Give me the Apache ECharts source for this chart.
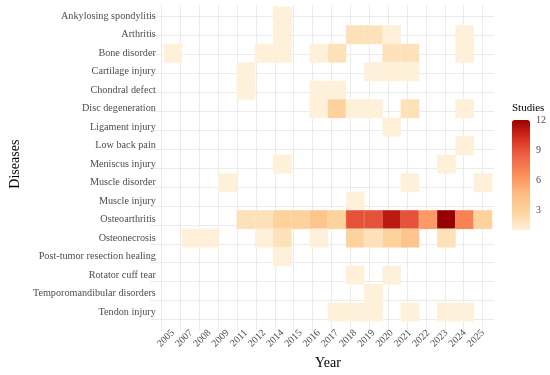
<!DOCTYPE html>
<html><head><meta charset="utf-8">
<script src="https://cdn.jsdelivr.net/npm/echarts@6/dist/echarts.min.js"></script>
<style>html,body{margin:0;padding:0;background:#fff}#c{width:550px;height:375px}</style>
</head><body><div id="c"></div>
<script>
const years = ['2005','2007','2008','2009','2011','2012','2014','2015','2016','2017','2018','2019','2020','2021','2022','2023','2024','2025'];
const diseases = ['Ankylosing spondylitis','Arthritis','Bone disorder','Cartilage injury','Chondral defect','Disc degeneration','Ligament injury','Low back pain','Meniscus injury','Muscle disorder','Muscle injury','Osteoarthritis','Osteonecrosis','Post-tumor resection healing','Rotator cuff tear','Temporomandibular disorders','Tendon injury'];
const legendTicks = [3, 6, 9, 12];

// studies per year, one list per disease: [year, count]
const ankylosingSpondylitis = [['2014',1]];
const arthritis = [['2014',1],['2018',2],['2019',2],['2020',1],['2024',1]];
const boneDisorder = [['2005',1],['2012',1],['2014',1],['2016',1],['2017',2],['2020',2],['2021',2],['2024',1]];
const cartilageInjury = [['2011',1],['2019',1],['2020',1],['2021',1]];
const chondralDefect = [['2011',1],['2016',1],['2017',1]];
const discDegeneration = [['2016',1],['2017',3],['2018',1],['2019',1],['2021',2],['2024',1]];
const ligamentInjury = [['2020',1]];
const lowBackPain = [['2024',1]];
const meniscusInjury = [['2014',1],['2023',1]];
const muscleDisorder = [['2009',1],['2021',1],['2025',1]];
const muscleInjury = [['2018',1]];
const osteoarthritis = [['2011',2],['2012',2],['2014',3],['2015',3],['2016',4],['2017',3],['2018',9],['2019',9],['2020',11],['2021',9],['2022',6],['2023',12],['2024',7],['2025',3]];
const osteonecrosis = [['2007',1],['2008',1],['2012',1],['2014',2],['2016',1],['2018',3],['2019',2],['2020',3],['2021',4],['2023',2]];
const postTumor = [['2014',1]];
const rotatorCuffTear = [['2018',1],['2020',1]];
const temporomandibular = [['2019',1]];
const tendonInjury = [['2017',1],['2018',1],['2019',1],['2021',1],['2023',1],['2024',1]];

const perDisease = [ankylosingSpondylitis, arthritis, boneDisorder, cartilageInjury, chondralDefect, discDegeneration, ligamentInjury, lowBackPain, meniscusInjury, muscleDisorder, muscleInjury, osteoarthritis, osteonecrosis, postTumor, rotatorCuffTear, temporomandibular, tendonInjury];
const heatData = [];
perDisease.forEach((list, i) => list.forEach(([y, v]) => heatData.push([y, diseases[i], v])));

// panel layout (ggplot-like: panel extends 0.1 category beyond the tiles)
const cellLeft = 152, cellTop = 7, cellW = 340, cellH = 322;
const colW = cellW / years.length, rowH = cellH / diseases.length;
const EXP = 0.1;
const GRID_COLOR = '#EBEBEB';

const FONT = 'Liberation Serif';
const hiddenValue = (gi) => ({type: 'value', gridIndex: gi, show: false, min: 0, max: 1, splitLine: {show: false}});
const chart = echarts.init(document.getElementById('c'), null, {renderer: 'canvas'});
chart.setOption({
  backgroundColor: '#fff',
  animation: false,
  title: {
    text: 'Studies', left: 512, top: 103, padding: 0,
    textStyle: {fontFamily: FONT, fontSize: 11, fontWeight: 'normal', color: '#000'}
  },
  grid: [
    {left: cellLeft, top: cellTop, width: cellW, height: cellH},
    {left: 512, top: 120, width: 18, height: 110},
    // vertical grid lines: from first to last column centre, full panel height
    {left: cellLeft + colW / 2, width: cellW - colW, top: cellTop - EXP * rowH, height: cellH + 2 * EXP * rowH},
    // horizontal grid lines: from first to last row centre, full panel width
    {left: cellLeft - EXP * colW, width: cellW + 2 * EXP * colW, top: cellTop + rowH / 2, height: cellH - rowH}
  ],
  xAxis: [
    {
      type: 'category', data: years, gridIndex: 0,
      axisLine: {show: false}, axisTick: {show: false},
      splitLine: {show: false},
      axisLabel: {rotate: 45, fontFamily: FONT, fontSize: 10, color: '#4D4D4D', margin: 10, interval: 0},
      name: 'Year', nameLocation: 'middle', nameGap: 33,
      nameTextStyle: {fontFamily: FONT, fontSize: 14, color: '#000'}
    },
    hiddenValue(1),
    {
      type: 'value', gridIndex: 2, min: 0, max: years.length - 1, interval: 1,
      axisLine: {show: false}, axisTick: {show: false}, axisLabel: {show: false},
      splitLine: {show: true, lineStyle: {color: GRID_COLOR, width: 1}}
    },
    hiddenValue(3)
  ],
  yAxis: [
    {
      type: 'category', data: diseases, inverse: true, gridIndex: 0,
      axisLine: {show: false}, axisTick: {show: false},
      splitLine: {show: false},
      axisLabel: {fontFamily: FONT, fontSize: 10.2, color: '#4D4D4D', margin: 8, interval: 0},
      name: 'Diseases', nameLocation: 'middle', nameGap: 137, nameRotate: 90,
      nameTextStyle: {fontFamily: FONT, fontSize: 14, color: '#000'}
    },
    {
      type: 'value', gridIndex: 1, min: 1, max: 12, position: 'right',
      axisLine: {show: false},
      splitLine: {show: false},
      axisTick: {show: true, inside: true, length: 3, customValues: legendTicks, lineStyle: {color: '#fff', width: 1}},
      axisLabel: {show: true, customValues: legendTicks, fontFamily: FONT, fontSize: 10, color: '#4D4D4D', margin: 6},
      z: 10
    },
    hiddenValue(2),
    {
      type: 'value', gridIndex: 3, min: 0, max: diseases.length - 1, interval: 1,
      axisLine: {show: false}, axisTick: {show: false}, axisLabel: {show: false},
      splitLine: {show: true, lineStyle: {color: GRID_COLOR, width: 1}}
    }
  ],
  visualMap: {
    type: 'continuous', min: 1, max: 12, dimension: 2, seriesIndex: 0,
    calculable: false, left: 512, top: 120, itemWidth: 18, itemHeight: 110, padding: 0,
    text: null, showLabel: false,
    inRange: {color: ['#fef0d9','#fdd49e','#fdbb84','#fc8d59','#ef6548','#d7301f','#990000']}
  },
  series: [{
    type: 'heatmap', xAxisIndex: 0, yAxisIndex: 0, data: heatData, z: 5,
    itemStyle: {borderColor: 'rgba(255,255,255,0.35)', borderWidth: 0.5},
    emphasis: {disabled: true}
  }]
});
</script></body></html>
